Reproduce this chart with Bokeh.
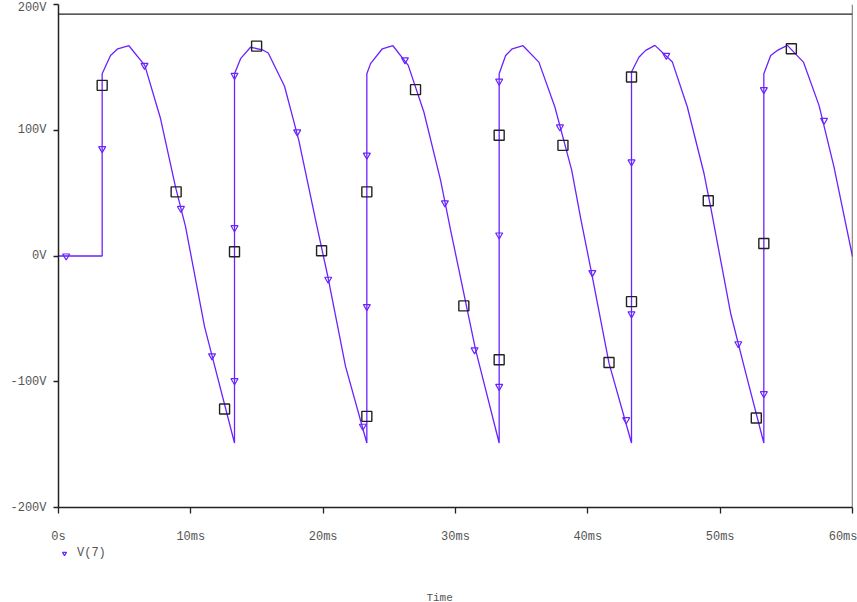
from bokeh.plotting import figure
from bokeh.layouts import column
from bokeh.models import Range1d, FixedTicker, Legend, LegendItem, Label, Span
from bokeh.embed import file_html
from bokeh.resources import INLINE

# ---- data ----
t_ms = [0, 3.3, 3.3, 3.93, 4.48, 5.32, 6.52, 7.71, 8.84, 9.6, 11.04, 13.3,
        13.3, 13.76, 14.51, 15.4, 15.85, 17.08, 18.16, 19.43, 20.38, 21.69, 23.3,
        23.3, 23.58, 24.47, 25.27, 26.43, 27.61, 28.87, 29.63, 31.52, 33.3,
        33.3, 33.79, 34.29, 35.1, 36.3, 37.51, 38.78, 39.46, 40.29, 41.6, 43.3,
        43.3, 43.86, 44.37, 45.07, 46.39, 47.52, 48.78, 49.28, 50.79, 51.93, 53.3,
        53.3, 53.82, 54.32, 55.08, 56.29, 57.47, 58.6, 60.0]
v_volts = [0, 0, 145, 159.5, 164.8, 167.2, 151.6, 109.3, 55, 23.3, -56.3, -148.7,
           145, 156.9, 166, 164, 161.4, 135, 92, 28.6, -17.7, -87.8, -148.7,
           145, 153, 164.8, 167.2, 151.6, 114.5, 60.3, 20.6, -74.6, -148.7,
           145, 159.5, 164.8, 167.2, 154.2, 118.5, 68.3, 29.9, -13.8, -85.2, -148.7,
           146.3, 158, 163.5, 167.5, 154.2, 118.5, 65.6, 39, -45.5, -93, -148.7,
           145, 159.5, 163.5, 167.5, 154.2, 119.8, 70.9, -0.5]

tri_t = [0.58, 3.3, 6.5, 9.25, 11.6, 13.3, 13.3, 13.3, 18.04, 20.38, 23.0, 23.3, 23.3,
         26.18, 29.2, 31.44, 33.3, 33.3, 33.3, 37.89, 40.34, 42.9, 43.3, 43.3, 45.93,
         51.37, 53.3, 53.3, 57.85]
tri_v = [0, 85.4, 151.6, 37.8, -79.4, -99.2, 22.5, 143.7, 98.7, -18.5, -135.4, -40.2, 80.2,
         156, 42.3, -74.6, -103.7, 16.7, 139, 102.6, -13.2, -130.2, -46, 74.8, 159.5,
         -69.8, -109.5, 132.3, 107.9]

sq_t = [3.3, 8.89, 12.55, 13.3, 14.97, 19.88, 23.3, 23.3, 26.98, 30.63, 33.3, 33.3,
        38.12, 41.6, 43.3, 43.3, 49.1, 52.73, 53.3, 55.38]
sq_v = [135.7, 51, -121.7, 3.4, 166.9, 4.2, 51, -127.5, 132.3, -39.7, 96, -82.5,
        88, -84.7, 142.3, -36.3, 43.9, -128.8, 10, 164.8]

x_ticks = [0, 10, 20, 30, 40, 50, 60]
x_labels = ["0s", "10ms", "20ms", "30ms", "40ms", "50ms", "60ms"]
y_ticks = [-200, -100, 0, 100, 200]
y_labels = ["-200V", "-100V", "0V", "100V", "200V"]
trace_name = "V(7)"
x_title = "Time"

TRACE = "#6a22ff"
FONT = "Liberation Mono"
TXT = "#555555"
DARK = "#222222"

p = figure(width=857, height=547, output_backend="svg", toolbar_location=None,
           x_range=Range1d(0, 60), y_range=Range1d(-200, 200),
           min_border_left=58, min_border_right=5, min_border_top=4, min_border_bottom=40)
p.xgrid.visible = False
p.ygrid.visible = False
p.outline_line_color = None
p.background_fill_color = "white"
p.border_fill_color = "white"

# frame lines (top border just below the 200V tick, right border)
p.add_layout(Span(location=192.3, dimension="width", line_color=DARK, line_width=1.3))
p.add_layout(Span(location=60, dimension="height", line_color=DARK, line_width=1.3))

p.line(t_ms, v_volts, line_color=TRACE, line_width=1.3)
p.scatter(tri_t, tri_v, marker="inverted_triangle", size=7, fill_color=None,
          line_color=TRACE, line_width=1.2)
p.scatter(sq_t, sq_v, marker="square", size=10, fill_color=None,
          line_color=DARK, line_width=1.4)

for ax in (p.xaxis[0], p.yaxis[0]):
    ax.axis_line_color = DARK
    ax.axis_line_width = 1.5
    ax.major_tick_line_color = DARK
    ax.major_tick_line_width = 1.3
    ax.minor_tick_line_color = None
    ax.major_tick_in = 0
    ax.major_label_text_font = FONT
    ax.major_label_text_font_size = "12px"
    ax.major_label_text_color = TXT

p.xaxis.ticker = FixedTicker(ticks=x_ticks)
p.xaxis.major_label_overrides = {k: s for k, s in zip(x_ticks, x_labels)}
p.xaxis.major_tick_out = 6
p.xaxis.major_label_standoff = 16

p.yaxis.ticker = FixedTicker(ticks=y_ticks)
p.yaxis.major_label_overrides = {k: s for k, s in zip(y_ticks, y_labels)}
p.yaxis.major_tick_out = 5
p.yaxis.major_label_standoff = 7

# strip below the chart holding the legend and the x title (same x mapping)
STRIP_H = 55
p2 = figure(width=857, height=STRIP_H, output_backend="svg", toolbar_location=None,
            x_range=p.x_range, y_range=Range1d(0, STRIP_H),
            min_border_left=58, min_border_right=5, min_border_top=0, min_border_bottom=0)
p2.axis.visible = False
p2.xgrid.visible = False
p2.ygrid.visible = False
p2.outline_line_color = None
p2.background_fill_color = "white"
p2.border_fill_color = "white"
# legend key renderer: one trace marker, placed outside the strip's visible range
key = p2.scatter(tri_t[:1], [-STRIP_H], marker="inverted_triangle", size=7, fill_color=None,
                 line_color=TRACE, line_width=1.2)
legend = Legend(items=[LegendItem(label=trace_name, renderers=[key])],
                location=(0, 42), glyph_width=12, glyph_height=10, label_standoff=7,
                padding=0, margin=0, border_line_alpha=0, background_fill_alpha=0,
                label_text_font=FONT, label_text_font_size="12px", label_text_color=TXT,
                label_height=10)
p2.add_layout(legend, "center")
p2.add_layout(Label(x=28.8, y=5, text=x_title, text_align="center", text_baseline="middle",
                    text_font=FONT, text_font_size="11px", text_color=TXT))

layout = column(p, p2, spacing=0)
open("out.html", "w").write(file_html(layout, INLINE))
